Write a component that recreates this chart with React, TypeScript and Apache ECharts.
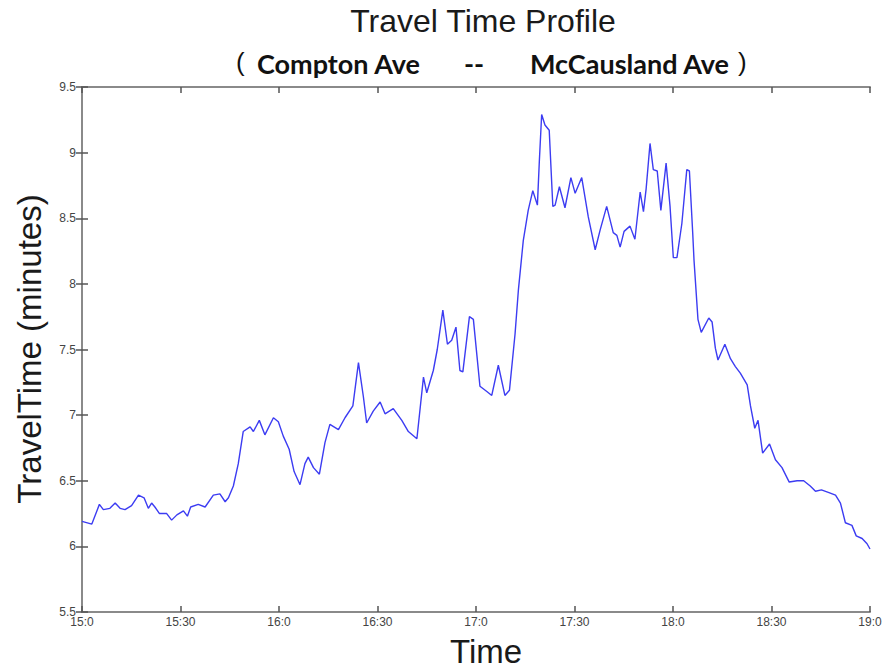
import React, { useEffect, useRef } from "react";
import * as echarts from "echarts";

// minutes after 15:00
const minutes = [
  0, 3.0, 5.3, 6.5, 8.5, 10.1, 11.6, 13.1, 15.1, 17.2, 18.9, 20.2, 21.2, 22.2, 23.6, 25.8, 27.3, 28.9,
  30.9, 32.1, 33.1, 35.4, 37.5, 40.0, 42.0, 43.6, 44.6, 46.1, 47.6, 49.1, 51.2, 52.2, 54.0, 55.7,
  58.3, 59.8, 61.3, 63.1, 64.6, 66.4, 67.9, 68.9, 70.5, 72.3, 74.0, 75.5, 78.1, 80.1, 82.5, 84.2,
  85.7, 86.7, 88.7, 90.8, 92.3, 94.8, 97.4, 99.4, 102.0, 104.0, 105.0, 107.0, 108.2, 109.9, 111.3,
  112.6, 113.9, 115.1, 116.0, 118.0, 119.2, 121.2, 123.3, 124.8, 126.8, 128.8, 130.2, 131.9, 132.9,
  134.4, 135.9, 137.3, 138.7, 139.3, 140.0, 141.0, 142.3, 143.4, 144.1, 145.4, 147.1, 148.9, 150.2,
  152.2, 154.2, 156.3, 157.8, 159.8, 161.8, 162.9, 163.9, 165.1, 166.9, 168.4, 170.0, 171.0, 171.8,
  173.0, 174.0, 175.2, 176.3, 177.9, 179.1, 180.1, 181.2, 182.7, 184.2, 185.0, 186.0, 186.4, 187.6,
  188.6, 190.9, 191.9, 192.9, 193.7, 195.8, 197.5, 199.0, 200.5, 202.6, 203.6, 204.9, 205.9, 207.3,
  209.4, 211.2, 213.2, 215.4, 217.8, 219.8, 221.8, 223.4, 225.2, 227.5, 229.5, 231.0, 232.5, 234.5,
  235.8, 237.6, 239.1, 240,
];

const travelTime = [
  6.19, 6.17, 6.32, 6.28, 6.29, 6.33, 6.29, 6.28, 6.31, 6.39, 6.37, 6.29, 6.33, 6.3, 6.25, 6.25, 6.2, 6.24,
  6.27, 6.23, 6.3, 6.32, 6.3, 6.39, 6.4, 6.34, 6.37, 6.46, 6.63, 6.875, 6.91, 6.875, 6.96, 6.85,
  6.98, 6.95, 6.84, 6.74, 6.57, 6.47, 6.63, 6.68, 6.6, 6.55, 6.79, 6.93, 6.89, 6.98, 7.07, 7.4,
  7.14, 6.94, 7.03, 7.1, 7.01, 7.05, 6.96, 6.875, 6.82, 7.29, 7.17, 7.34, 7.5, 7.8, 7.54,
  7.57, 7.67, 7.34, 7.33, 7.75, 7.73, 7.22, 7.18, 7.15, 7.38, 7.15, 7.19, 7.62, 7.95,
  8.33, 8.56, 8.71, 8.6, 8.94, 9.29, 9.21, 9.17, 8.59, 8.6, 8.74, 8.58, 8.81, 8.69,
  8.81, 8.51, 8.26, 8.41, 8.59, 8.39, 8.37, 8.28, 8.4, 8.44, 8.34, 8.7, 8.55, 8.72,
  9.07, 8.87, 8.86, 8.56, 8.92, 8.59, 8.2, 8.2, 8.46, 8.87, 8.86, 8.39, 8.18, 7.73,
  7.63, 7.74, 7.71, 7.51, 7.42, 7.54, 7.43, 7.37, 7.32, 7.23, 7.07, 6.9, 6.96, 6.71,
  6.78, 6.66, 6.6, 6.49, 6.5, 6.5, 6.46, 6.42, 6.43, 6.41, 6.39, 6.33, 6.18, 6.16,
  6.08, 6.06, 6.02, 5.98,
];

const title = "Travel Time Profile";
const fromRoad = "Compton Ave";
const toRoad = "McCausland Ave";
const xName = "Time";
const yName = "TravelTime (minutes)";

const fmtTime = (v: number) => `${15 + Math.floor(v / 60)}:${Math.round(v % 60)}`;

export default function App() {
  const ref = useRef<HTMLDivElement>(null);
  useEffect(() => {
    const chart = echarts.init(ref.current!, null, { renderer: "svg" });
    const frame = { lineStyle: { color: "#8a8a8a", width: 2 } };
    const tickIn = { show: true, inside: true, length: 6, lineStyle: { color: "#555", width: 1.5 } };
    const narrow = "'Liberation Sans Narrow', 'Liberation Sans', Arial, sans-serif";
    const sans = "'Liberation Sans', Arial, sans-serif";
    chart.setOption({
      animation: false,
      backgroundColor: "#fff",
      grid: { left: 82, right: 25, top: 87, bottom: 58 },
      xAxis: [
        {
          type: "value", min: 0, max: 240, interval: 30,
          axisLine: { show: true, ...frame }, axisTick: tickIn, splitLine: { show: false },
          axisLabel: { formatter: fmtTime, fontFamily: narrow, fontSize: 12, color: "#444", margin: 4 },
        },
        {
          type: "value", position: "top", min: 0, max: 240, interval: 30,
          axisLine: { show: true, ...frame }, axisTick: tickIn, splitLine: { show: false },
          axisLabel: { show: false },
        },
      ],
      yAxis: [
        {
          type: "value", min: 5.5, max: 9.5, interval: 0.5,
          axisLine: { show: true, ...frame }, axisTick: tickIn, splitLine: { show: false },
          axisLabel: { fontFamily: sans, fontSize: 12, color: "#444", margin: 6 },
        },
        {
          type: "value", position: "right", min: 5.5, max: 9.5, interval: 0.5,
          axisLine: { show: true, ...frame }, axisTick: tickIn, splitLine: { show: false },
          axisLabel: { show: false },
        },
      ],
      series: [
        {
          type: "line",
          data: minutes.map((m, i) => [m, travelTime[i]]),
          showSymbol: false,
          lineStyle: { color: "#3c3cf2", width: 1.4 },
        },
      ],
      graphic: [
        {
          type: "text", x: 483, y: 21,
          style: { text: title, font: `32px ${sans}`, fill: "#1a1a1a", align: "center", verticalAlign: "middle" },
        },
        {
          type: "text", x: 236, y: 62,
          style: { text: "(", font: `26px ${sans}`, fill: "#111", align: "left", verticalAlign: "middle" },
        },
        {
          type: "text", x: 257, y: 63,
          style: { text: fromRoad, font: "bold 27px Lato, 'Open Sans', sans-serif", fill: "#111", align: "left", verticalAlign: "middle" },
        },
        {
          type: "text", x: 474, y: 63,
          style: { text: "--", font: "bold 27px Lato, sans-serif", fill: "#111", align: "center", verticalAlign: "middle" },
        },
        {
          type: "text", x: 530, y: 63,
          style: { text: toRoad, font: "bold 27px Lato, 'Open Sans', sans-serif", fill: "#111", align: "left", verticalAlign: "middle" },
        },
        {
          type: "text", x: 738, y: 62,
          style: { text: ")", font: `26px ${sans}`, fill: "#111", align: "left", verticalAlign: "middle" },
        },
        {
          type: "text", x: 486, y: 651,
          style: { text: xName, font: `33px ${sans}`, fill: "#1a1a1a", align: "center", verticalAlign: "middle" },
        },
        {
          type: "text", x: 29, y: 349, rotation: Math.PI / 2,
          style: { text: yName, font: `33px ${sans}`, fill: "#1a1a1a", align: "center", verticalAlign: "middle" },
        },
      ],
    });
    return () => chart.dispose();
  }, []);
  return <div ref={ref} style={{ width: 895, height: 670, position: "absolute", left: 0, top: 0 }} />;
}
